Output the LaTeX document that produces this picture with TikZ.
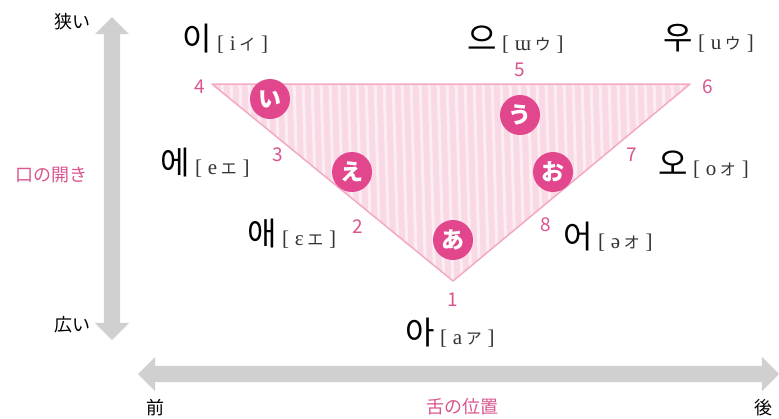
\documentclass[tikz,border=0pt]{standalone}
\usepackage{fontspec}
\setmainfont{Noto Sans CJK JP}
\newfontfamily\kofont{Noto Sans CJK KR}
\newfontfamily\ipafont{Liberation Serif}
\newfontfamily\kata{Noto Sans CJK JP}
\usetikzlibrary{shapes.arrows}
\definecolor{kanapink}{HTML}{E2468D}
\definecolor{numpink}{HTML}{D8558F}
\definecolor{edgepink}{HTML}{F2A9C4}
\definecolor{fillpink}{HTML}{F9D9E5}
\definecolor{arrowgray}{HTML}{D0D0D0}
\tikzset{
  hangul/.style={font=\kofont\fontsize{32}{32}\selectfont},
  ipa/.style={anchor=base west,font=\ipafont\fontsize{21}{21}\selectfont,text=black!80},
  num/.style={font=\fontsize{19}{19}\selectfont,text=numpink},
  kana/.style={circle,fill=kanapink,minimum size=40pt,text=white,
    font=\bfseries\fontsize{23}{23}\selectfont},
  axis/.style={font=\fontsize{18}{18}\selectfont},
  axisname/.style={axis,text=numpink},
  grayarrow/.style={double arrow,fill=arrowgray,inner sep=8pt,
    double arrow head extend=9pt}
}
\newcommand\kk[1]{{\kata\fontsize{16}{16}\selectfont #1}}

\begin{document}
\begin{tikzpicture}[x=1pt,y=-1pt,inner sep=0pt]
  \useasboundingbox (0,0) rectangle (779,418);
  % axes
  \node (vaxis) at (112,178.5)[grayarrow,rotate=90,minimum height=323pt]{};
  \node (haxis) at (458.5,374)[grayarrow,minimum height=641pt]{};
  \node (narrow) at (72,22)[axis]{狭い};
  \node (wide) at (72,325)[axis]{広い};
  \node (mouth) at (52,175)[axisname]{口の開き};
  \node (front) at (155,408)[axis]{前};
  \node (back) at (763,408)[axis]{後};
  \node (tongue) at (462,407)[axisname]{舌の位置};
  % triangle
  \coordinate (v4) at (212,84);
  \coordinate (v6) at (690,84);
  \coordinate (v1) at (453,281);
  \fill[fillpink] (v4) -- (v6) -- (v1) -- cycle;
  \begin{scope}
    \clip (v4) -- (v6) -- (v1) -- cycle;
    \foreach \x in {204,213,...,700}
      \draw[white,opacity=0.55,line width=3pt] (\x,80) -- (\x+6,290);
  \end{scope}
  \draw[edgepink,line width=1.5pt,line join=round] (v4) -- (v6) -- (v1) -- cycle;
  % numbers
  \node (n1) at (453,300)[num]{1};
  \node (n2) at (358,227)[num]{2};
  \node (n3) at (278,155)[num]{3};
  \node (n4) at (200,87)[num]{4};
  \node (n5) at (520,70)[num]{5};
  \node (n6) at (708,87)[num]{6};
  \node (n7) at (632,155)[num]{7};
  \node (n8) at (546,225)[num]{8};
  % kana
  \node (k_i) at (270,99)[kana]{い};
  \node (k_u) at (520,115)[kana]{う};
  \node (k_e) at (352,172)[kana]{え};
  \node (k_o) at (553,172)[kana]{お};
  \node (k_a) at (453,240)[kana]{あ};
  % hangul
  \node (h_i) at (197,39)[hangul]{이};
  \node (h_eu) at (482,38)[hangul]{으};
  \node (h_u) at (678,38)[hangul]{우};
  \node (h_e) at (175,163)[hangul]{에};
  \node (h_o) at (673,163)[hangul]{오};
  \node (h_ae) at (262,234)[hangul]{애};
  \node (h_eo) at (578,237)[hangul]{어};
  \node (h_a) at (420,333)[hangul]{아};
  \foreach \h/\v/\k in {h_i/i/イ,h_eu/ɯ/ウ,h_u/u/ウ,h_e/e/エ,
                        h_o/o/オ,h_ae/ɛ/エ,h_eo/ə/オ,h_a/a/ア}
    \node (\h ipa) at ([xshift=5pt]\h.base east)[ipa]{[\;\v\,\kk{\k}\;]};
\end{tikzpicture}
\end{document}
